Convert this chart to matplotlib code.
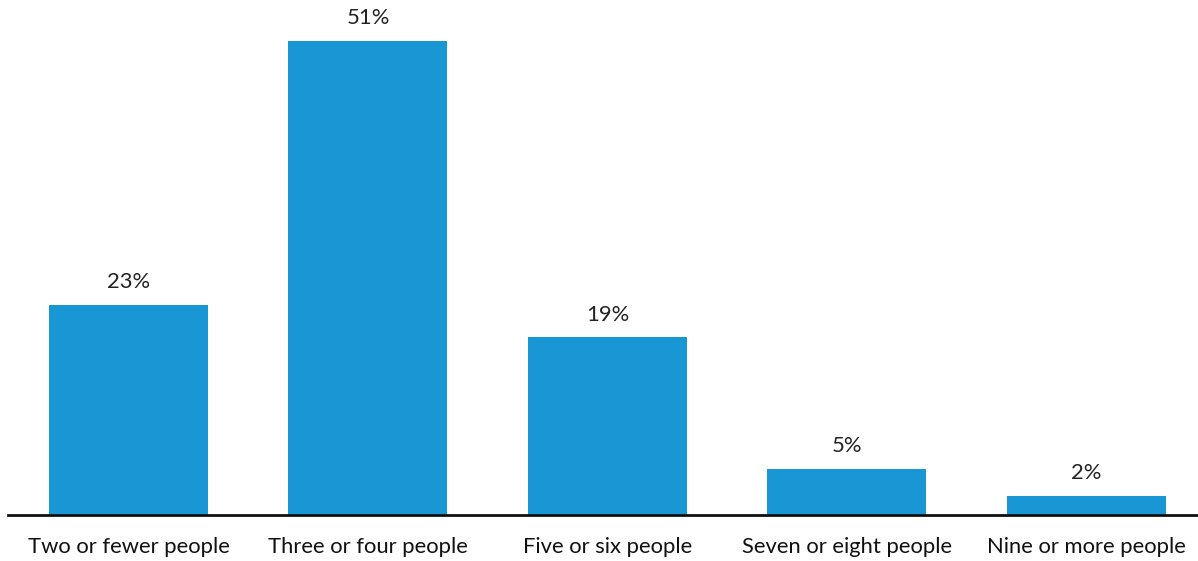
import matplotlib.pyplot as plt

categories = ["Two or fewer people", "Three or four people", "Five or six people",
              "Seven or eight people", "Nine or more people"]
values = [22.6, 51, 19.1, 4.95, 2.05]
value_labels = ["23%", "51%", "19%", "5%", "2%"]

W, H = 1198, 561
fig = plt.figure(figsize=(W / 100, H / 100), dpi=100)
plt.rcParams['font.family'] = ['Lato', 'DejaVu Sans']

# axes box in pixels: left 8, right 1198, baseline at 515, top at 0
ax = fig.add_axes([8 / W, (H - 515) / H, (W - 8) / W, 515 / H])

x = range(len(categories))
bars = ax.bar(x, values, width=0.664, color="#1897d4")

ax.set_xlim(-0.503, 4.466)
ax.set_ylim(0, 55.4)

for b, lab in zip(bars, value_labels):
    ax.annotate(lab, (b.get_x() + b.get_width() / 2, b.get_height()),
                xytext=(0, 9), textcoords="offset points",
                ha="center", va="bottom", fontsize=15.8, color="#222222")

ax.set_xticks(list(x))
ax.set_xticklabels(categories, fontsize=15.8, color="#111111")
ax.tick_params(axis="x", length=0, pad=15.5)
ax.set_yticks([])
for s in ["top", "right", "left"]:
    ax.spines[s].set_visible(False)
ax.spines["bottom"].set_linewidth(2)
ax.spines["bottom"].set_color("#111111")

fig.savefig("out.png", dpi=100)
